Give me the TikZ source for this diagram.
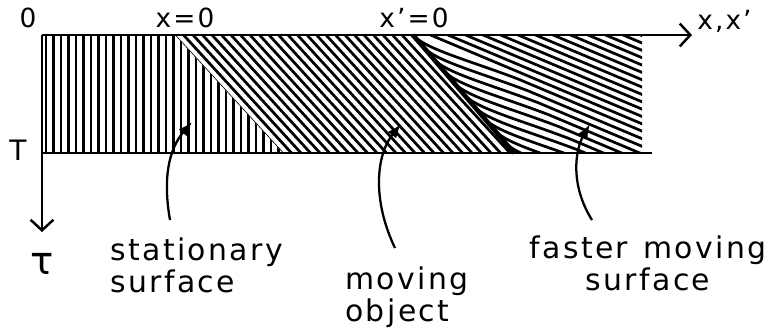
\documentclass[tikz,border=0pt]{standalone}
\usepackage{fontspec}
\newfontfamily\handfont{DejaVu Sans}[LetterSpace=8]
\usetikzlibrary{positioning,arrows.meta}

\tikzset{
  lbl/.style={font=\handfont\fontsize{17}{18.7}\selectfont,inner sep=0pt},
  axlbl/.style={font=\handfont\fontsize{15}{16}\selectfont,inner sep=0pt},
  axis/.style={line width=1.6pt,-{Straight Barb[length=6pt,width=13pt,line width=1.4pt]}},
  ptr/.style={line width=1.3pt,-{Latex[length=8pt,width=6pt]}},
  hatch/.style={line width=1.55pt},
}

\begin{document}
\begin{tikzpicture}[x=0.02cm,y=-0.02cm]
\useasboundingbox (0,0) rectangle (769,330);
% corners of the strip
\coordinate (o) at (42,35);
\coordinate (b) at (42,153);
\coordinate (s1) at (175,35);
\coordinate (s2) at (283,153);
\coordinate (f1) at (413,35);
\coordinate (f2) at (514,153);
\coordinate (e1) at (642,35);
\coordinate (e2) at (642,153);
\coordinate (bend) at (652,153);
\coordinate (xtip) at (692,35);
\coordinate (ttip) at (42,232);
% stationary surface
\begin{scope}
  \clip (o) -- (s1) -- (s2) -- (b) -- cycle;
  \foreach \x in {46,53.5,...,290} \draw[hatch] (\x,35) -- (\x,153);
\end{scope}
% moving object
\begin{scope}
  \clip (s1) -- (f1) -- (f2) -- (s2) -- cycle;
  \foreach \x in {60,69.5,...,420} \draw[hatch] (\x,35) -- ++(108,118);
\end{scope}
% faster moving surface
\begin{scope}
  \clip (f1) -- (e1) -- (e2) -- (f2) -- cycle;
  \foreach \k in {0,...,10}
    \draw[hatch] (413+10.19*\k,35+11.9*\k) .. controls +(12,14) and +(-50,-19) .. +(105,44) -- +(405,170);
  \foreach \k in {1,...,13}
    \draw[hatch] (413+17.5*\k,35) -- +(300,126);
\end{scope}
\draw[line width=2.6pt] (f1) -- (f2);
% axes
\draw[line width=1.6pt] (b) -- (bend);
\draw[axis] (o) -- (xtip);
\draw[axis] (o) -- (ttip);
\node[axlbl] (zero) at (28,18) {0};
\node[axlbl] (xzero) at (185,18) {x=0};
\node[axlbl] (xpzero) at (414,18) {x’=0};
\node[axlbl,anchor=west] (xlab) at (697,21) {x,x’};
\node[axlbl,font=\handfont\fontsize{16}{17}\selectfont] (tT) at (18,150) {T};
\node[lbl,font=\handfont\fontsize{22}{24}\selectfont] (tau) at (42,264) {τ};
% labels
\node[lbl,align=left,anchor=north west] (stat) at (110,237) {stationary\\surface};
\node[lbl,align=left,anchor=north west] (obj) at (345,266) {moving\\object};
\node[lbl,align=center,anchor=north] (fast) at (648,235) {faster\hspace{0.5em}moving\\surface};
\coordinate (sp) at (192,122);
\coordinate (op) at (401,124);
\coordinate (fp) at (590,124);
\draw[ptr] ([shift={(60,-17)}]stat.north west) .. controls (163,180) and (168,150) .. (sp);
\draw[ptr] ([shift={(50,-18)}]obj.north west) .. controls (372,200) and (376,155) .. (op);
\draw[ptr] ([shift={(-56,-15)}]fast.north) .. controls (570,185) and (575,150) .. (fp);
\end{tikzpicture}
\end{document}
